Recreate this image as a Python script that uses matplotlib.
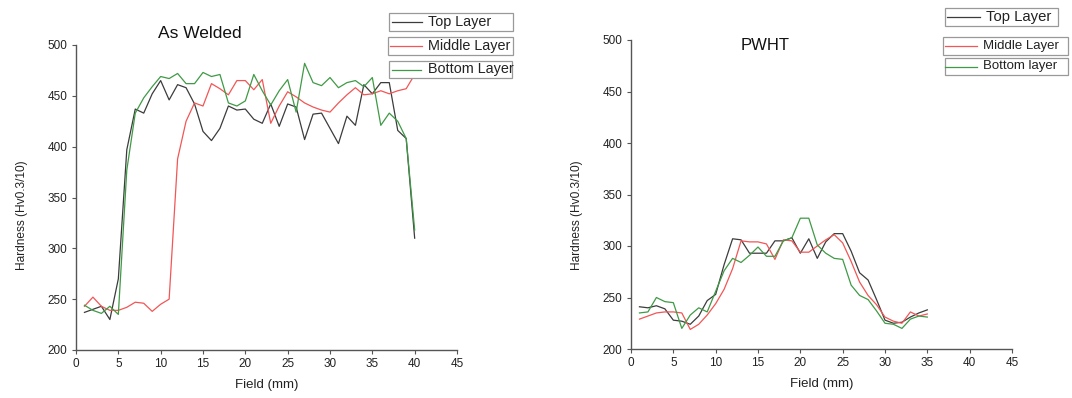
import matplotlib
matplotlib.use("Agg")
import matplotlib.pyplot as plt
from matplotlib.lines import Line2D
from matplotlib.patches import Rectangle

plt.rcParams['font.family'] = ['Liberation Sans', 'DejaVu Sans']

# ---------------- data ----------------
field_aw = list(range(1, 41))
top_aw = [237, 240, 243, 230, 270, 397, 437, 433, 452, 465, 446, 461, 458, 442, 415, 406, 418, 440, 436, 437,
          427, 423, 442, 420, 442, 439, 407, 432, 433, 418, 403, 430, 421, 461, 452, 463, 463, 416, 408, 310]
mid_aw = [243, 252, 243, 239, 239, 242, 247, 246, 238, 245, 250, 388, 425, 443, 440, 462, 457, 451, 465, 465,
          456, 466, 423, 440, 454, 449, 443, 439, 436, 434, 443, 451, 458, 451, 452, 455, 452, 455, 457, 471]
bot_aw = [244, 239, 236, 243, 235, 377, 433, 448, 459, 469, 467, 472, 462, 462, 473, 469, 471, 443, 440, 445,
          471, 455, 441, 455, 466, 434, 482, 463, 460, 468, 458, 463, 465, 459, 468, 421, 433, 425, 408, 318]

field_p = list(range(1, 36))
top_p = [241, 240, 242, 239, 228, 227, 224, 232, 247, 253, 282, 307, 306, 293, 293, 293, 305, 305, 308, 293,
         307, 288, 304, 312, 312, 295, 274, 267, 248, 228, 225, 226, 231, 235, 238]
mid_p = [229, 232, 235, 236, 236, 235, 219, 224, 233, 244, 258, 278, 305, 304, 304, 302, 287, 306, 305, 294,
         294, 300, 306, 311, 303, 285, 265, 252, 243, 231, 227, 225, 236, 232, 234]
bot_p = [235, 236, 250, 246, 245, 220, 233, 240, 236, 256, 276, 288, 284, 291, 299, 290, 290, 305, 308, 327,
         327, 301, 293, 288, 287, 262, 252, 248, 237, 225, 224, 220, 229, 232, 231]

labels_aw = ["Top Layer", "Middle Layer", "Bottom Layer"]
labels_p = ["Top Layer", "Middle Layer", "Bottom layer"]
titles = ["As Welded", "PWHT"]
xticks = [0, 5, 10, 15, 20, 25, 30, 35, 40, 45]
yticks = [200, 250, 300, 350, 400, 450, 500]

colors = ["#3c3c3c", "#f25656", "#3f9a46"]

W, H = 1072, 398
fig = plt.figure(figsize=(W / 100, H / 100), dpi=100)

ax1 = fig.add_axes([76 / W, 1 - 350 / H, 381 / W, 305 / H])
ax2 = fig.add_axes([631 / W, 1 - 349 / H, 381 / W, 309 / H])


def style(ax, ylab_y):
    ax.set_xlim(0, 45)
    ax.set_ylim(200, 500)
    ax.set_xticks(xticks)
    ax.set_yticks(yticks)
    for s in ("top", "right"):
        ax.spines[s].set_visible(False)
    for s in ("left", "bottom"):
        ax.spines[s].set_color("#555555")
        ax.spines[s].set_linewidth(1.0)
    ax.tick_params(direction="out", length=3, width=0.8, color="#555555",
                   labelsize=8.5, labelcolor="#222222", pad=3)
    ax.set_xlabel("Field (mm)", fontsize=9.5, color="#222222", labelpad=6)
    ax.set_ylabel("Hardness (Hv0.3/10)", fontsize=8.6, color="#222222")
    ax.yaxis.set_label_coords(-0.126, ylab_y)


for ax, x, series, ly in ((ax1, field_aw, (top_aw, mid_aw, bot_aw), 0.443),
                          (ax2, field_p, (top_p, mid_p, bot_p), 0.434)):
    for y, c in zip(series, colors):
        ax.plot(x, y, color=c, lw=0.9, clip_on=False)
    style(ax, ly)

ax1.text(14.6, 511, titles[0], fontsize=12.5, ha="center", va="center", color="#111111")
ax2.text(15.8, 495, titles[1], fontsize=12, ha="center", va="center", color="#111111")


def legend_box(label, color, x0, x1, y0, y1, lx0, lx1, tx, fs):
    """Draw an Origin-style single-entry legend box (pixel coords, y from top)."""
    fig.patches.append(Rectangle((x0 / W, 1 - y1 / H), (x1 - x0) / W, (y1 - y0) / H,
                                 transform=fig.transFigure, fill=True, facecolor="white",
                                 edgecolor="#999999", lw=0.9))
    yc = (y0 + y1) / 2
    fig.lines.append(Line2D([lx0 / W, lx1 / W], [1 - yc / H, 1 - yc / H],
                            transform=fig.transFigure, color=color, lw=0.9))
    fig.text(tx / W, 1 - yc / H, label, fontsize=fs, ha="left", va="center", color="#222222")


# left legend
legend_box(labels_aw[0], colors[0], 389, 513, 13, 31, 392, 422, 428, 10.4)
legend_box(labels_aw[1], colors[1], 388, 513, 37, 55, 390, 422, 428, 10.4)
legend_box(labels_aw[2], colors[2], 389, 512, 61, 78, 392, 421, 428, 10.4)
# right legend
legend_box(labels_p[0], colors[0], 945, 1058, 8, 26, 947, 980, 986, 10.7)
legend_box(labels_p[1], colors[1], 943, 1068, 37, 55, 945, 977, 983, 9.5)
legend_box(labels_p[2], colors[2], 945, 1068, 58, 75, 945, 977, 983, 9.5)

fig.savefig("out.png", dpi=100)
